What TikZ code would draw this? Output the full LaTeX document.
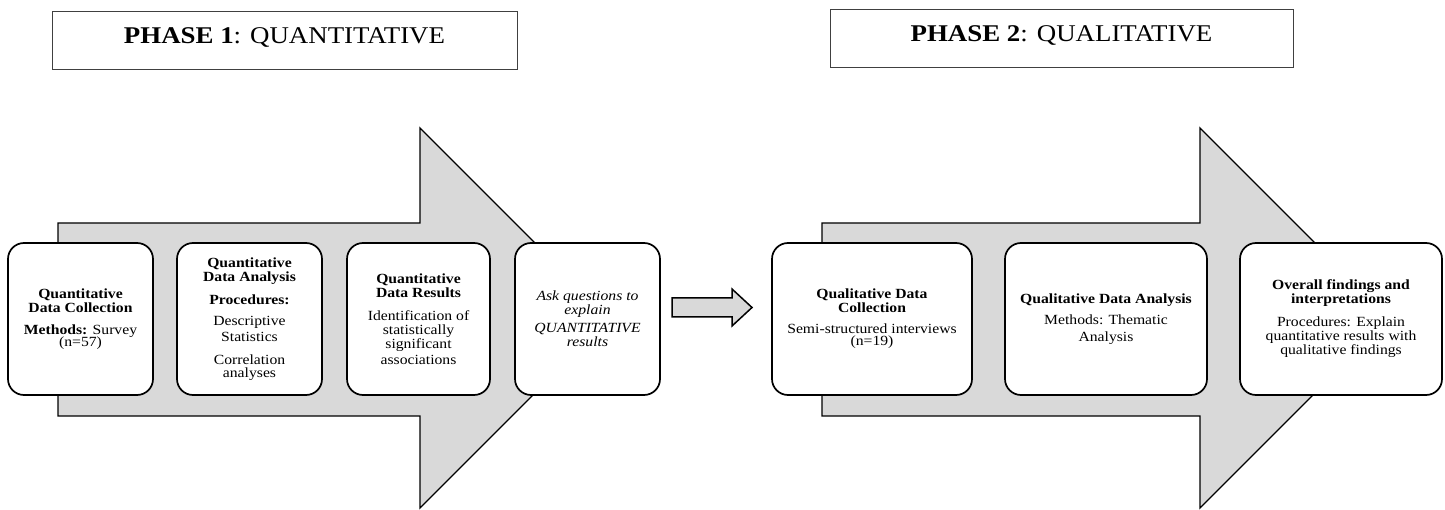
\documentclass[tikz,border=0pt]{standalone}
\usepackage{fontspec}
\setmainfont[FakeStretch=1.12]{Liberation Serif}
\begin{document}
\begin{tikzpicture}[x=1pt,y=-1pt,
  bigarrow/.style={draw=black, line width=1.3pt, fill=black!15, line join=miter},
  smallarrow/.style={draw=black, line width=1.5pt, fill=black!15, line join=miter},
  stage/.style={draw=black, line width=1.7pt, fill=white, rounded corners=16pt,
    anchor=north west, outer sep=0pt, inner sep=2pt, align=center,
    minimum height=152pt, font=\fontsize{14}{14}\selectfont},
  header/.style={draw=black!75, line width=0.9pt, fill=white, anchor=north west,
    outer sep=0pt, inner sep=0pt, text height=17pt, text depth=10pt,
    minimum height=58pt, font=\fontsize{24}{24}\selectfont}]
\useasboundingbox (0,0) rectangle (1445,510);

% big arrows
\draw[bigarrow] (58,223) -- (420,223) -- (420,128) -- (610,318) -- (420,508)
  -- (420,416) -- (58,416) -- cycle;
\draw[bigarrow] (822,223) -- (1200,223) -- (1200,128) -- (1390,318) -- (1200,508)
  -- (1200,416) -- (822,416) -- cycle;

% small arrow between phases
\draw[smallarrow] (672,298) -- (732,298) -- (732,289) -- (752,307.5) -- (732,326)
  -- (732,317) -- (672,317) -- cycle;

% headers
\node[header, minimum width=465pt] (hdr1) at (52,11)
  {\textbf{PHASE 1}: QUANTITATIVE};
\node[header, minimum width=463pt] (hdr2) at (830,9)
  {\textbf{PHASE 2}: QUALITATIVE};

% stage boxes
\node[stage, minimum width=145pt] (b1) at (8,243)
  {\textbf{Quantitative}\\ \textbf{Data Collection}\\[8pt]
   \textbf{Methods:} Survey\\[-2pt] (n=57)};
\node[stage, minimum width=145pt] (b2) at (177,243)
  {\textbf{Quantitative}\\ \textbf{Data Analysis}\\[9pt]
   \textbf{Procedures:}\\[7pt] Descriptive\\[2pt] Statistics\\[9pt]
   Correlation\\[-1pt] analyses};
\node[stage, minimum width=143pt] (b3) at (347,243)
  {\textbf{Quantitative}\\ \textbf{Data Results}\\[9pt]
   Identification of\\ statistically\\ significant\\[2pt] associations};
\node[stage, minimum width=145pt] (b4) at (515,243)
  {\itshape Ask questions to\\ \itshape explain\\[4pt] \itshape QUANTITATIVE\\ \itshape results};
\node[stage, minimum width=200pt] (b5) at (772,243)
  {\textbf{Qualitative Data}\\ \textbf{Collection}\\[7pt]
   Semi-structured interviews\\[-2pt] (n=19)};
\node[stage, minimum width=202pt] (b6) at (1005,243)
  {\textbf{Qualitative Data Analysis}\\[7pt]
   Methods: Thematic\\[3pt] Analysis};
\node[stage, minimum width=202pt] (b7) at (1240,243)
  {\textbf{Overall findings and}\\ \textbf{interpretations}\\[9pt]
   Procedures: Explain\\ quantitative results with\\ qualitative findings};
\end{tikzpicture}
\end{document}
